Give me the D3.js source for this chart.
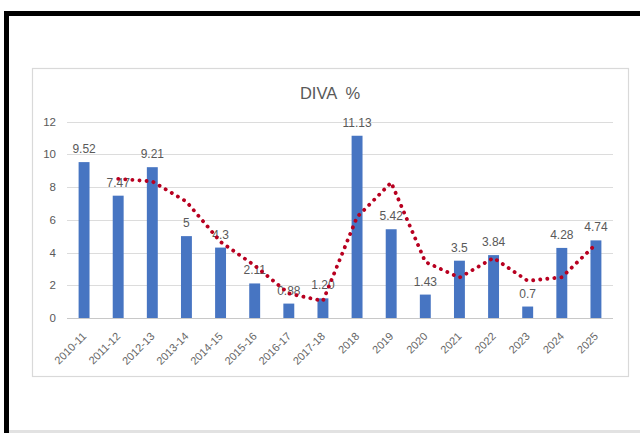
<!DOCTYPE html>
<html>
<head>
<meta charset="utf-8">
<script src="https://cdn.jsdelivr.net/npm/d3@7"></script>
<style>
  html, body { margin: 0; padding: 0; background: #fff; }
  svg { display: block; }
  text { font-family: "Liberation Sans", Arial, sans-serif; }
</style>
</head>
<body>
<svg id="chart" width="640" height="433"></svg>
<script>
// Fiscal periods and DIVA % values
const categories = ["2010-11","2011-12","2012-13","2013-14","2014-15","2015-16","2016-17","2017-18",
                    "2018","2019","2020","2021","2022","2023","2024","2025"];
const values = [9.52, 7.47, 9.21, 5, 4.3, 2.11, 0.88, 1.2, 11.13, 5.42, 1.43, 3.5, 3.84, 0.7, 4.28, 4.74];
const valueLabels = ["9.52","7.47","9.21","5","4.3","2.11","0.88","1.20","11.13","5.42","1.43","3.5","3.84","0.7","4.28","4.74"];
const yTicks = [0, 2, 4, 6, 8, 10, 12];
const title = "DIVA  %";

const svg = d3.select("#chart");

// Outer page frame: heavy top and left rule, faint bottom rule
svg.append("rect").attr("x", 4).attr("y", 11).attr("width", 636).attr("height", 5).attr("fill", "#000");
svg.append("rect").attr("x", 4).attr("y", 11).attr("width", 5).attr("height", 422).attr("fill", "#000");
svg.append("rect").attr("x", 9).attr("y", 430).attr("width", 631).attr("height", 3).attr("fill", "#e2e2e2");

// Chart area box
svg.append("rect")
  .attr("x", 32.5).attr("y", 68.5).attr("width", 596).attr("height", 308)
  .attr("fill", "#fff").attr("stroke", "#d9d9d9").attr("stroke-width", 1.2);

const x = d3.scaleBand().domain(categories).range([67, 613]).paddingInner(0.68).paddingOuter(0.34);
const y = d3.scaleLinear().domain([0, 12]).range([318, 121.5]);

// Title (two spaces kept)
svg.append("text")
  .attr("x", 330).attr("y", 99)
  .attr("text-anchor", "middle")
  .attr("font-size", 16.5)
  .attr("fill", "#595959")
  .style("white-space", "pre")
  .text(title);

// Horizontal gridlines
svg.append("g")
  .selectAll("line")
  .data(yTicks)
  .join("line")
  .attr("x1", 67).attr("x2", 613)
  .attr("y1", d => Math.round(y(d)) + 0.5).attr("y2", d => Math.round(y(d)) + 0.5)
  .attr("stroke", d => d === 0 ? "#c8c8c8" : "#dcdcdc")
  .attr("stroke-width", 1.2);

// Y axis labels
const yAxis = d3.axisLeft(y).tickValues(yTicks).tickSize(0).tickPadding(0);
const gy = svg.append("g").attr("transform", "translate(56,0)").call(yAxis);
gy.select(".domain").remove();
gy.selectAll("text")
  .attr("font-size", 11.5)
  .attr("fill", "#595959")
  .attr("font-family", "Liberation Sans, Arial, sans-serif");

// X axis labels, rotated
const xAxis = d3.axisBottom(x).tickSize(0).tickPadding(0);
const gx = svg.append("g").attr("transform", "translate(0,318)").call(xAxis);
gx.select(".domain").remove();
gx.selectAll("text")
  .attr("font-size", 11)
  .attr("fill", "#666666")
  .attr("font-family", "Liberation Sans, Arial, sans-serif")
  .attr("text-anchor", "end")
  .attr("dy", null)
  .attr("transform", "translate(3,19) rotate(-45)");

// Bars
svg.append("g")
  .selectAll("rect")
  .data(values)
  .join("rect")
  .attr("x", (d, i) => x(categories[i]))
  .attr("y", d => y(d))
  .attr("width", x.bandwidth())
  .attr("height", d => y(0) - y(d))
  .attr("fill", "#4775c2");

// Value labels
svg.append("g")
  .selectAll("text")
  .data(values)
  .join("text")
  .attr("x", (d, i) => x(categories[i]) + x.bandwidth() / 2)
  .attr("y", d => y(d) - 9)
  .attr("text-anchor", "middle")
  .attr("font-size", 12)
  .attr("fill", "#595959")
  .text((d, i) => valueLabels[i]);

// 2-period moving average trendline
const trend = values.slice(1).map((v, i) => ({ cat: categories[i + 1], v: (values[i] + v) / 2 }));
const line = d3.line()
  .x(d => x(d.cat) + x.bandwidth() / 2)
  .y(d => y(d.v))
  .curve(d3.curveLinear);
svg.append("path")
  .datum(trend)
  .attr("d", line)
  .attr("fill", "none")
  .attr("stroke", "#b80020")
  .attr("stroke-width", 3.8)
  .attr("stroke-linecap", "round")
  .attr("stroke-dasharray", "0.1 7");
</script>
</body>
</html>
